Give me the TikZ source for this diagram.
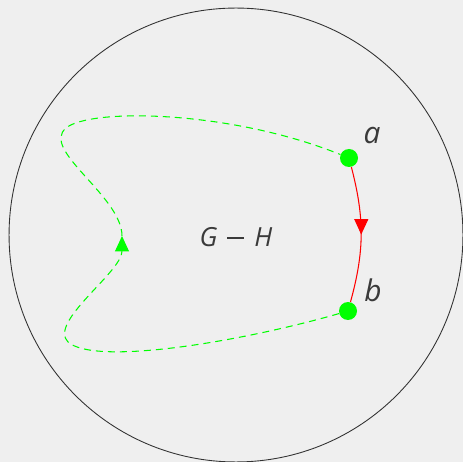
\documentclass[tikz,border=0pt]{standalone}
\usepackage{fontspec}
\setmainfont{Open Sans}
\usetikzlibrary{arrows.meta,decorations.markings}
\definecolor{bgcol}{HTML}{EFEFEF}
\definecolor{txtcol}{HTML}{3A3A3A}
\definecolor{vgreen}{HTML}{00FF00}
\newcommand{\widminus}{\hspace{0.2cm}\raisebox{0.29em}{\rule{0.34cm}{0.8pt}}\hspace{0.2cm}}

\begin{document}
\begin{tikzpicture}[
    x=0.02cm, y=-0.02cm,
    >={Triangle[width=0.28cm, length=0.31cm]},
    vertex/.style={circle, fill=vgreen, minimum size=0.36cm, inner sep=0pt},
    lbl/.style={text=txtcol, font=\fontsize{17}{20}\selectfont\itshape},
    walk/.style={vgreen, dashed, dash pattern=on 0.14cm off 0.1cm, line width=0.6pt},
    edge/.style={red, line width=0.6pt,
                 decoration={markings, mark=at position 0.5 with {\arrow{>}}},
                 postaction={decorate}}
]
\fill[bgcol] (0,0) rectangle (463,462);
\useasboundingbox (0,0) rectangle (463,462);

\node[draw=black!80, circle, line width=0.5pt, minimum size=9.08cm] (disc) at (236,235) {};
\node[text=txtcol, font=\fontsize{15}{18}\selectfont] (gh) at (236,237) {\textit{G}\widminus\textit{H}};

\node[vertex] (a) at (349,158) {};
\node[vertex] (b) at (348,311) {};
\node[lbl] at (372,136) {a};
\node[lbl] at (373,290) {b};

% the edge from a to b
\draw[edge] (a) to[bend left=15] (b);

% the way back round
\coordinate (m) at (122,236);
\draw[walk, ->] (b) .. controls (240,342) and (95,366) .. (68,342)
    .. controls (48,322) and (122,272) .. (m);
\draw[walk] (m) .. controls (122,196) and (40,150) .. (66,128)
    .. controls (90,108) and (230,110) .. (a);
\end{tikzpicture}
\end{document}
